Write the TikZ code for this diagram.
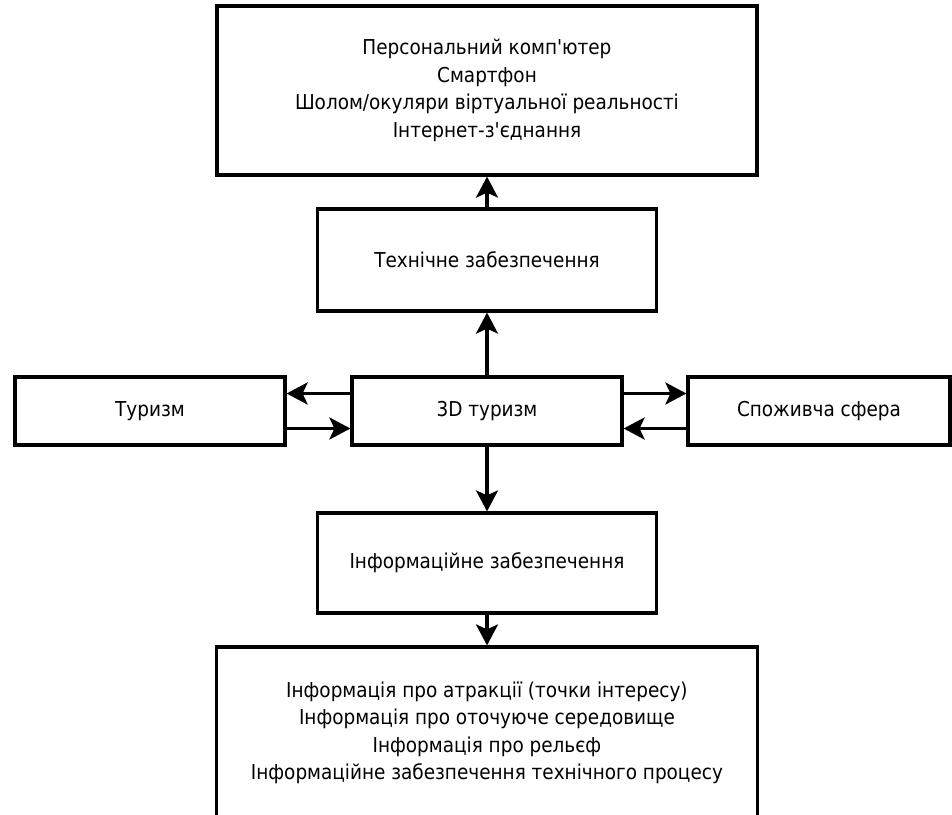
\documentclass[tikz,border=0pt]{standalone}
\usepackage{fontspec}
\setmainfont[Ligatures=TeXOff]{DejaVu Sans Condensed}
\usetikzlibrary{arrows.meta}
\begin{document}
\begin{tikzpicture}[x=1pt,y=-1pt,
  box/.style={draw, line width=3.2pt, rectangle, inner sep=0pt, align=center,
    font=\fontsize{20.5}{27.5}\selectfont},
  conn/.style={line width=3.2pt, -{Stealth[length=21pt,width=22pt,inset=5pt]}}]
\useasboundingbox (0,0) rectangle (952,814);
\clip (0,0) rectangle (952,814);
\node[box, minimum width=540pt, minimum height=169pt] (hw) at (487,90.5)
  {Персональний комп'ютер\\Смартфон\\Шолом/окуляри віртуальної реальності\\Інтернет-з'єднання};
\node[box, minimum width=339pt, minimum height=102pt] (tech) at (487,260) {Технічне забезпечення};
\node[box, minimum width=270pt, minimum height=68pt] (tur) at (150,411) {Туризм};
\node[box, minimum width=270pt, minimum height=68pt] (dd) at (487,411) {3D туризм};
\node[box, minimum width=262pt, minimum height=68pt] (sp) at (819,411) {Споживча сфера};
\node[box, minimum width=339pt, minimum height=100pt] (info) at (487,563) {Інформаційне забезпечення};
\node[box, minimum width=541pt, minimum height=172pt] (data) at (487,733)
  {Інформація про атракції (точки інтересу)\\Інформація про оточуюче середовище\\Інформація про рельєф\\Інформаційне забезпечення технічного процесу};
\draw[conn] (tech.north) -- (hw.south);
\draw[conn] (dd.north) -- (tech.south);
\draw[conn] (dd.south) -- (info.north);
\draw[conn] (info.south) -- (data.north);
\draw[conn] ([yshift=17.5pt]dd.west) -- ([yshift=17.5pt]tur.east);
\draw[conn] ([yshift=-17.5pt]tur.east) -- ([yshift=-17.5pt]dd.west);
\draw[conn] ([yshift=17.5pt]dd.east) -- ([yshift=17.5pt]sp.west);
\draw[conn] ([yshift=-17.5pt]sp.west) -- ([yshift=-17.5pt]dd.east);
\end{tikzpicture}
\end{document}
